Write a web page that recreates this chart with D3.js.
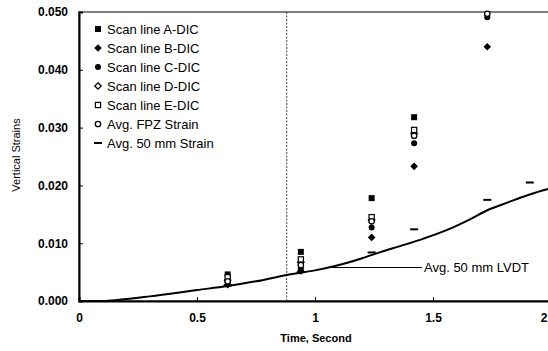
<!DOCTYPE html>
<html>
<head>
<meta charset="utf-8">
<script src="https://cdn.jsdelivr.net/npm/d3@7"></script>
<style>
  html, body { margin: 0; padding: 0; background: #fff; }
  svg { display: block; }
  text { font-family: "Liberation Sans", Arial, sans-serif; fill: #000; }
</style>
</head>
<body>
<svg id="chart" width="548" height="351"></svg>
<script>
// Sampling times (s) of the DIC images
const times = [0.63, 0.94, 1.24, 1.42, 1.73, 1.91];

// Vertical strain along each scan line (null = beyond the 0.05 axis limit / not measured)
const scanA = [0.0046, 0.0085, 0.0178, 0.0318, null, null];
const scanB = [0.0028, 0.0052, 0.0110, 0.0233, 0.0440, null];
const scanC = [0.0032, 0.0056, 0.0127, 0.0273, 0.0491, null];
const scanD = [0.0036, 0.0067, 0.0140, 0.0290, null, null];
const scanE = [0.0041, 0.0072, 0.0145, 0.0296, null, null];
const fpzAvg = [0.0034, 0.0062, 0.0138, 0.0286, 0.0497, null];
const gauge50 = [0.0027, 0.0050, 0.0084, 0.0124, 0.0175, 0.0205];

// Continuous LVDT record (average over 50 mm gauge)
const lvdtTime   = [0, 0.10, 0.17, 0.30, 0.50, 0.63, 0.75, 0.88, 1.00, 1.08, 1.20, 1.28, 1.36, 1.46, 1.56, 1.65, 1.73, 1.82, 1.90, 1.98, 2.0];
const lvdtStrain = [0, 0.0000, 0.0002, 0.0008, 0.0019, 0.0026, 0.0034, 0.0045, 0.0053, 0.0060, 0.0074, 0.0085, 0.0095, 0.0108, 0.0123, 0.0140, 0.0157, 0.0171, 0.0183, 0.0193, 0.0195];

const xTicks = [0, 0.5, 1, 1.5, 2];
const yTicks = [0, 0.01, 0.02, 0.03, 0.04, 0.05];
const markerTime = 0.88;

const legendLabels = ["Scan line A-DIC", "Scan line B-DIC", "Scan line C-DIC",
  "Scan line D-DIC", "Scan line E-DIC", "Avg. FPZ Strain", "Avg. 50 mm Strain"];

const svg = d3.select("#chart");
const m = { left: 79, top: 12, right: 551, bottom: 301 };
const W = +svg.attr("width");

const x = d3.scaleLinear().domain([0, 2]).range([m.left, m.right]);
const y = d3.scaleLinear().domain([0, 0.05]).range([m.bottom, m.top]);

// Plot frame
svg.append("rect")
  .attr("x", m.left).attr("y", m.top)
  .attr("width", m.right - m.left).attr("height", m.bottom - m.top)
  .attr("fill", "none").attr("stroke", "#000").attr("stroke-width", 1);

// Axes with inward ticks
const xAxis = svg.append("g").attr("transform", `translate(0,${m.bottom})`)
  .call(d3.axisBottom(x).tickValues(xTicks).tickSize(-4).tickPadding(12)
    .tickFormat(d => d3.format("")(d)));
xAxis.select(".domain").attr("stroke", "#000").attr("stroke-width", 2);
xAxis.selectAll("text").attr("font-size", 12).attr("font-weight", "bold")
  .style("font-family", "Liberation Sans, Arial, sans-serif");
// keep the last label inside the page edge
xAxis.selectAll(".tick").filter(d => x(d) > W - 6).select("text")
  .attr("text-anchor", "end").attr("x", W - 1 - x(2));

const yAxis = svg.append("g").attr("transform", `translate(${m.left},0)`)
  .call(d3.axisLeft(y).tickValues(yTicks).tickSize(-4).tickPadding(11)
    .tickFormat(d3.format(".3f")));
yAxis.select(".domain").attr("stroke", "#000").attr("stroke-width", 2);
yAxis.selectAll("text").attr("font-size", 12).attr("font-weight", "bold")
  .style("font-family", "Liberation Sans, Arial, sans-serif");

// Axis titles
svg.append("text")
  .attr("x", 316).attr("y", 342).attr("text-anchor", "middle")
  .attr("font-size", 11).attr("font-weight", "bold").text("Time, Second");
svg.append("text")
  .attr("transform", "translate(20,155) rotate(-90)")
  .attr("text-anchor", "middle").attr("font-size", 11).text("Vertical Strains");

// Dashed vertical reference line
svg.append("line")
  .attr("x1", x(markerTime)).attr("x2", x(markerTime))
  .attr("y1", m.top).attr("y2", m.bottom)
  .attr("stroke", "#444").attr("stroke-width", 1).attr("stroke-dasharray", "2,1.5");

// LVDT curve
const line = d3.line().x(d => x(d[0])).y(d => y(d[1])).curve(d3.curveMonotoneX);
svg.append("path")
  .datum(lvdtTime.map((t, i) => [t, lvdtStrain[i]]))
  .attr("d", line).attr("fill", "none").attr("stroke", "#000").attr("stroke-width", 2);

// LVDT callout
const calloutT = 1.07, calloutV = 0.0058;
svg.append("line")
  .attr("x1", x(calloutT)).attr("x2", 422)
  .attr("y1", y(calloutV)).attr("y2", y(calloutV))
  .attr("stroke", "#000").attr("stroke-width", 1.2);
svg.append("text").attr("x", 424).attr("y", y(calloutV) + 4.5)
  .attr("font-size", 13).text("Avg. 50 mm LVDT");

// Marker drawing helpers
const sym = {
  squareFill: g => g.append("rect").attr("x", -3).attr("y", -3).attr("width", 6).attr("height", 6).attr("fill", "#000"),
  diamondFill: g => g.append("path").attr("d", "M0,-3.8L3.8,0L0,3.8L-3.8,0Z").attr("fill", "#000"),
  circleFill: g => g.append("circle").attr("r", 3).attr("fill", "#000"),
  diamondOpen: g => g.append("path").attr("d", "M0,-3.2L3.2,0L0,3.2L-3.2,0Z").attr("fill", "#fff").attr("stroke", "#000").attr("stroke-width", 1.3),
  squareOpen: g => g.append("rect").attr("x", -2.6).attr("y", -2.6).attr("width", 5.2).attr("height", 5.2).attr("fill", "#fff").attr("stroke", "#000").attr("stroke-width", 1.2),
  circleOpen: g => g.append("circle").attr("r", 2.7).attr("fill", "#fff").attr("stroke", "#000").attr("stroke-width", 1.3),
  dash: g => g.append("rect").attr("x", -4).attr("y", -1).attr("width", 8).attr("height", 2).attr("fill", "#000")
};

const series = [
  { values: scanA, draw: sym.squareFill },
  { values: scanB, draw: sym.diamondFill },
  { values: scanC, draw: sym.circleFill },
  { values: scanD, draw: sym.diamondOpen },
  { values: scanE, draw: sym.squareOpen },
  { values: fpzAvg, draw: sym.circleOpen },
  { values: gauge50, draw: sym.dash }
];

series.forEach(s => {
  times.forEach((t, i) => {
    const v = s.values[i];
    if (v == null) return;
    const g = svg.append("g").attr("transform", `translate(${x(t)},${y(v)})`);
    s.draw(g);
  });
});

// Legend
const legendX = 98, legendY0 = 29, legendStep = 19;
legendLabels.forEach((lab, i) => {
  const g = svg.append("g").attr("transform", `translate(${legendX},${legendY0 + i * legendStep})`);
  series[i].draw(g);
  g.append("text").attr("x", 9).attr("y", 4.5).attr("font-size", 13).text(lab);
});
</script>
</body>
</html>
